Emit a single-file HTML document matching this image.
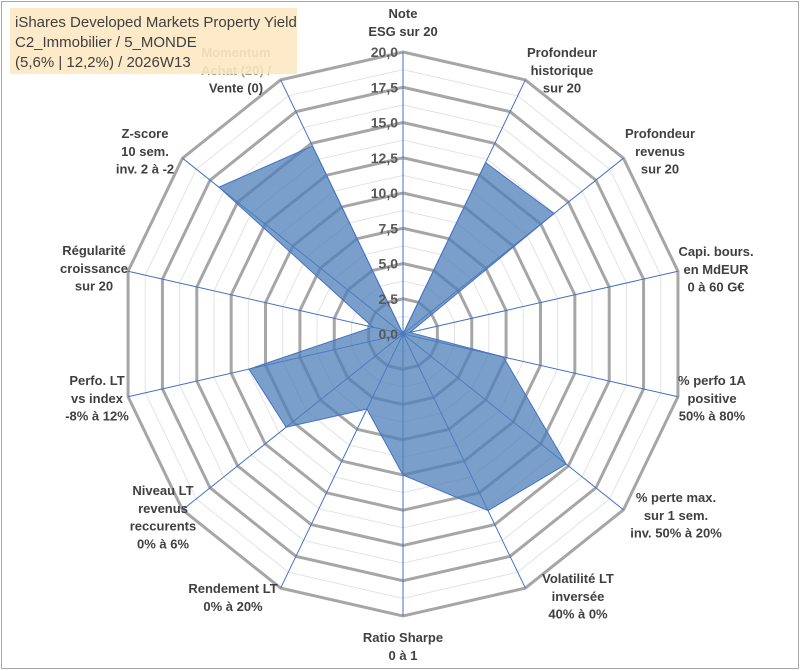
<!DOCTYPE html>
<html><head><meta charset="utf-8"><style>
html,body{margin:0;padding:0;background:#fff}
#wrap{position:relative;width:801px;height:671px;overflow:hidden}
svg text{font-family:"Liberation Sans",Arial,sans-serif}
</style></head><body>
<div id="wrap">
<svg id="chart" width="801" height="671" viewBox="0 0 801 671">
<rect x="1.5" y="1.5" width="797" height="667" fill="#fff" stroke="#a6a6a6" stroke-width="1"/>
<g id="grid"></g><g id="series"></g><g id="ticks"></g><g id="labels"></g>
<rect x="10" y="8" width="287" height="66" fill="#fce6c0" opacity="0.85"/>
<g font-size="15" fill="#404040" style="font-family:'Liberation Sans Narrow','Liberation Sans',sans-serif">
<text x="15" y="27">iShares Developed Markets Property Yield</text>
<text x="15" y="47">C2_Immobilier / 5_MONDE</text>
<text x="15" y="67">(5,6% | 12,2%) / 2026W13</text>
</g>
</svg>
</div>
<script>
const categories=[["Note","ESG sur 20"],["Profondeur","historique","sur 20"],["Profondeur","revenus","sur 20"],["Capi. bours.","en MdEUR","0 à 60 G€"],["% perfo 1A","positive","50% à 80%"],["% perte max.","sur 1 sem.","inv. 50% à 20%"],["Volatilité LT","inversée","40% à 0%"],["Ratio Sharpe","0 à 1"],["Rendement LT","0% à 20%"],["Niveau LT","revenus","reccurents","0% à 6%"],["Perfo. LT","vs index","-8% à 12%"],["Régularité","croissance","sur 20"],["Z-score","10 sem.","inv. 2 à -2"],["Momentum","Achat (20) /","Vente (0)"]];
const values=[0,13.5,13.7,0.5,7.3,14.8,13.9,10,5.9,10.6,11.2,2.2,16.7,14.8];
const tickLabels=["0,0","2,5","5,0","7,5","10,0","12,5","15,0","17,5","20,0"];
const labelPos=[[403,13],[562,52],[660,133],[716,251],[712,380],[676,497],[578,578],[403,637],[233,588],[163,490],[97,380],[94,250],[145,133],[236,52]];
const NS="http://www.w3.org/2000/svg";
const cx=403,cy=334,R=282,maxV=20,N=categories.length;
function ang(i){return -Math.PI/2+i*2*Math.PI/N;}
function pt(i,v){const r=v/maxV*R;return [cx+r*Math.cos(ang(i)),cy+r*Math.sin(ang(i))];}
function mk(tag,attrs,parent){const e=document.createElementNS(NS,tag);for(const k in attrs)e.setAttribute(k,attrs[k]);parent.appendChild(e);return e;}
const grid=document.getElementById('grid');
for(let k=1;k<=16;k++){const v=k*1.25;const major=k%2===0;
 const p=[];for(let i=0;i<N;i++)p.push(pt(i,v).join(','));
 const e=mk('polygon',{points:p.join(' '),fill:'none',stroke:major?'#a6a6a6':'#e3e3e3','stroke-width':major?3:1},grid);
 
 }
for(let i=0;i<N;i++){const [x,y]=pt(i,maxV);
 const e=mk('line',{x1:cx,y1:cy,x2:x,y2:y,stroke:'#4472c4','stroke-width':1},grid);
 
 }
const ser=document.getElementById('series');
const sp=values.map((v,i)=>pt(i,v).join(',')).join(' ');
const poly=mk('polygon',{points:sp,fill:'#4f7fba','fill-opacity':0.75,stroke:'#4472c4','stroke-width':1},ser);


const tk=document.getElementById('ticks');
tickLabels.forEach((t,k)=>{const y=cy-k*2.5/maxV*R;
 const e=mk('text',{x:cx-5,y:y+5,'text-anchor':'end','font-size':14,'font-weight':'bold',fill:'#595959'},tk);
 e.textContent=t;
 
 });
const lb=document.getElementById('labels');
categories.forEach((lines,i)=>{const [x,y]=labelPos[i];
 const g=mk('g',{},lb);
 
 
 lines.forEach((l,j)=>{const muted=(i===13&&j<2);
  const e=mk('text',{x:x,y:y+5+j*17.8,'text-anchor':'middle','font-size':13,'font-weight':'bold',fill:muted?'#a89c80':'#404040'},g);
  e.textContent=l;});});
</script>
</body></html>
